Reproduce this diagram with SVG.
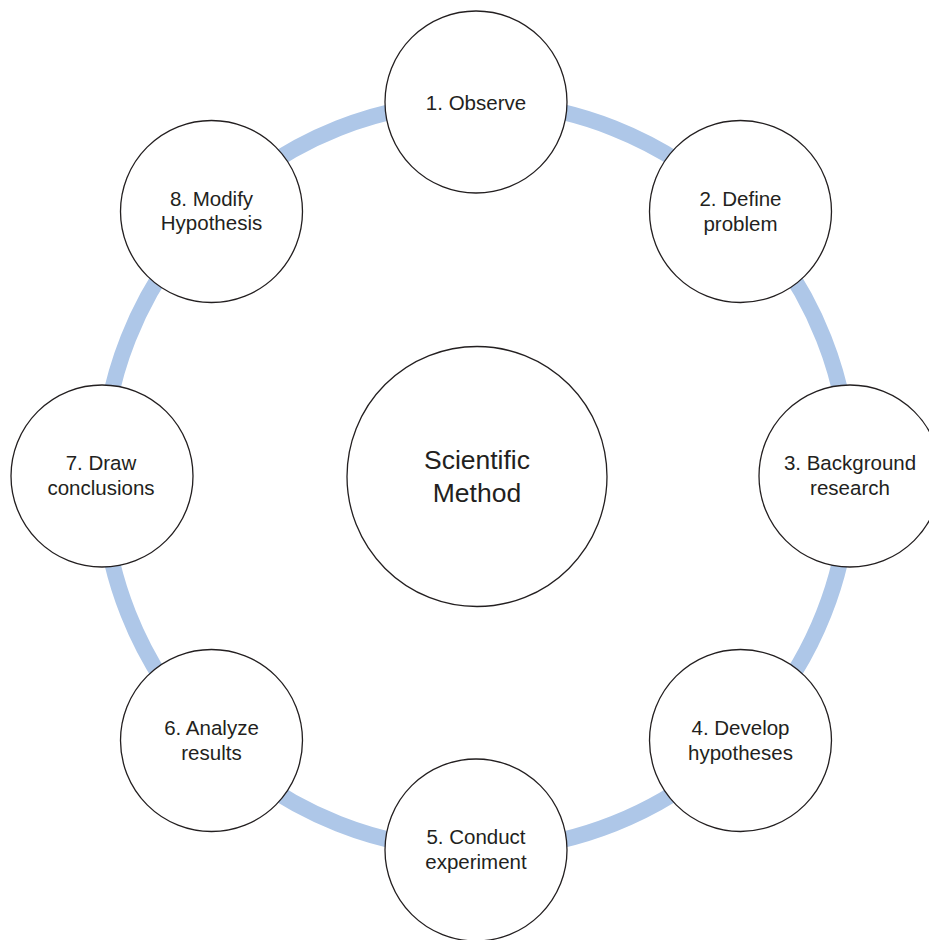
<svg xmlns="http://www.w3.org/2000/svg" width="929" height="940" viewBox="0 0 929 940">
<style>
.ring{fill:none;stroke:#aec7e8;stroke-width:16}
.node{fill:#fff;stroke:#231f20;stroke-width:1.3}
.lbl{font-family:"Liberation Sans",Arial,Helvetica,sans-serif;font-size:20.5px;fill:#231f20;text-anchor:middle}
.big{font-size:26.5px}
</style>
<rect width="929" height="940" fill="#fff"/>
<g id="connectors">
<circle class="ring" cx="476" cy="476" r="374"/>
</g>
<g id="center">
<circle class="node" cx="477" cy="476.5" r="130"/>
<text class="lbl big" x="477" y="469">Scientific</text>
<text class="lbl big" x="477" y="502">Method</text>
</g>
<g id="n1">
<circle class="node" cx="476" cy="102" r="91"/>
<text class="lbl" x="476" y="110">1. Observe</text>
</g>
<g id="n2">
<circle class="node" cx="740.5" cy="211.5" r="91"/>
<text class="lbl" x="740.5" y="206">2. Define</text>
<text class="lbl" x="740.5" y="231">problem</text>
</g>
<g id="n3">
<circle class="node" cx="850" cy="476" r="91"/>
<text class="lbl" x="850" y="470">3. Background</text>
<text class="lbl" x="850" y="495">research</text>
</g>
<g id="n4">
<circle class="node" cx="740.5" cy="740.5" r="91"/>
<text class="lbl" x="740.5" y="735">4. Develop</text>
<text class="lbl" x="740.5" y="760">hypotheses</text>
</g>
<g id="n5">
<circle class="node" cx="476" cy="850" r="91"/>
<text class="lbl" x="476" y="844">5. Conduct</text>
<text class="lbl" x="476" y="869">experiment</text>
</g>
<g id="n6">
<circle class="node" cx="211.5" cy="740.5" r="91"/>
<text class="lbl" x="211.5" y="735">6. Analyze</text>
<text class="lbl" x="211.5" y="760">results</text>
</g>
<g id="n7">
<circle class="node" cx="102" cy="476" r="91"/>
<text class="lbl" x="101" y="470">7. Draw</text>
<text class="lbl" x="101" y="495">conclusions</text>
</g>
<g id="n8">
<circle class="node" cx="211.5" cy="211.5" r="91"/>
<text class="lbl" x="211.5" y="206">8. Modify</text>
<text class="lbl" x="211.5" y="230">Hypothesis</text>
</g>
</svg>
